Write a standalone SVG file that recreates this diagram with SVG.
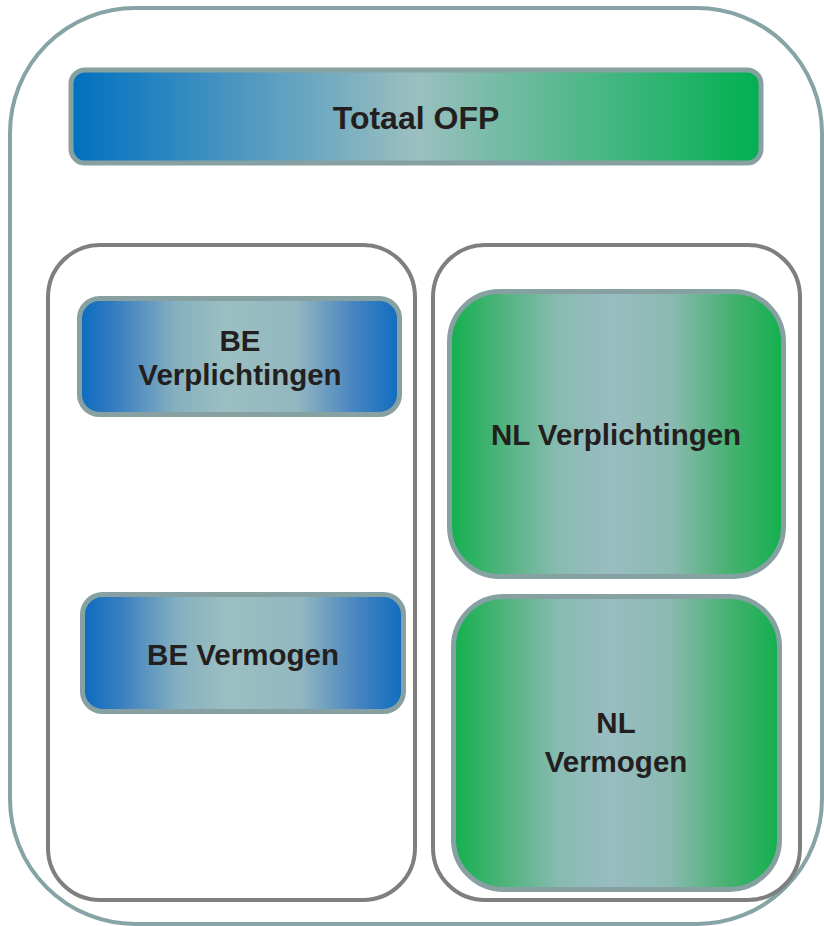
<svg xmlns="http://www.w3.org/2000/svg" width="824" height="926" viewBox="0 0 824 926">
<defs>
<linearGradient id="gTop" x1="0" y1="0" x2="1" y2="0">
<stop offset="0" stop-color="#0070c0"/>
<stop offset="0.5" stop-color="#9bbfc0"/>
<stop offset="1" stop-color="#00b050"/>
</linearGradient>
<linearGradient id="gBlue" x1="0" y1="0" x2="1" y2="0">
<stop offset="0" stop-color="#0a6bc0"/>
<stop offset="0.12" stop-color="#3a7fc0"/>
<stop offset="0.3" stop-color="#86b0c0"/>
<stop offset="0.45" stop-color="#9bbfc1"/>
<stop offset="0.68" stop-color="#92b7c0"/>
<stop offset="0.85" stop-color="#4a86c0"/>
<stop offset="1" stop-color="#0f6cc0"/>
</linearGradient>
<linearGradient id="gGreen" x1="0" y1="0" x2="1" y2="0">
<stop offset="0" stop-color="#12b04e"/>
<stop offset="0.15" stop-color="#4db37a"/>
<stop offset="0.32" stop-color="#87bbb0"/>
<stop offset="0.48" stop-color="#99bcc0"/>
<stop offset="0.66" stop-color="#8cbab2"/>
<stop offset="0.85" stop-color="#43b16e"/>
<stop offset="1" stop-color="#12b04e"/>
</linearGradient>
</defs>
<style>
.outer{fill:#ffffff;stroke:#86a4a5;stroke-width:4}
.cont{fill:#ffffff;stroke:#7f7f7f;stroke-width:4}
.node{stroke:#87a1a2;stroke-width:5}
.lbl{font-family:"Liberation Sans",Arial,sans-serif;font-weight:bold;fill:#231f20;text-anchor:middle}
</style>
<g id="outer"><rect class="outer" x="10" y="8" width="812" height="916" rx="125" ry="125"/></g>
<g id="totaal-ofp">
<rect class="node" x="71" y="70" width="690" height="93" rx="14" fill="url(#gTop)"/>
<text class="lbl" x="416" y="129" font-size="32">Totaal OFP</text>
</g>
<g id="be-container"><rect class="cont" x="48" y="245" width="367" height="655" rx="52"/></g>
<g id="nl-container"><rect class="cont" x="433" y="245" width="367" height="655" rx="52"/></g>
<g id="be-verplichtingen">
<rect class="node" x="79.5" y="298.5" width="320" height="116" rx="20" fill="url(#gBlue)"/>
<text class="lbl" x="240" y="351" font-size="29.5">BE</text>
<text class="lbl" x="240" y="385" font-size="29.5">Verplichtingen</text>
</g>
<g id="be-vermogen">
<rect class="node" x="82.5" y="594.5" width="321" height="117" rx="20" fill="url(#gBlue)"/>
<text class="lbl" x="243" y="665" font-size="29.5">BE Vermogen</text>
</g>
<g id="nl-verplichtingen">
<rect class="node" x="449.5" y="291.5" width="334" height="285" rx="50" fill="url(#gGreen)"/>
<text class="lbl" x="616" y="445" font-size="29.5">NL Verplichtingen</text>
</g>
<g id="nl-vermogen">
<rect class="node" x="453.5" y="596.5" width="326" height="293" rx="50" fill="url(#gGreen)"/>
<text class="lbl" x="616" y="733" font-size="29.5">NL</text>
<text class="lbl" x="616" y="772" font-size="29.5">Vermogen</text>
</g>
<g id="connectors"></g>
</svg>
